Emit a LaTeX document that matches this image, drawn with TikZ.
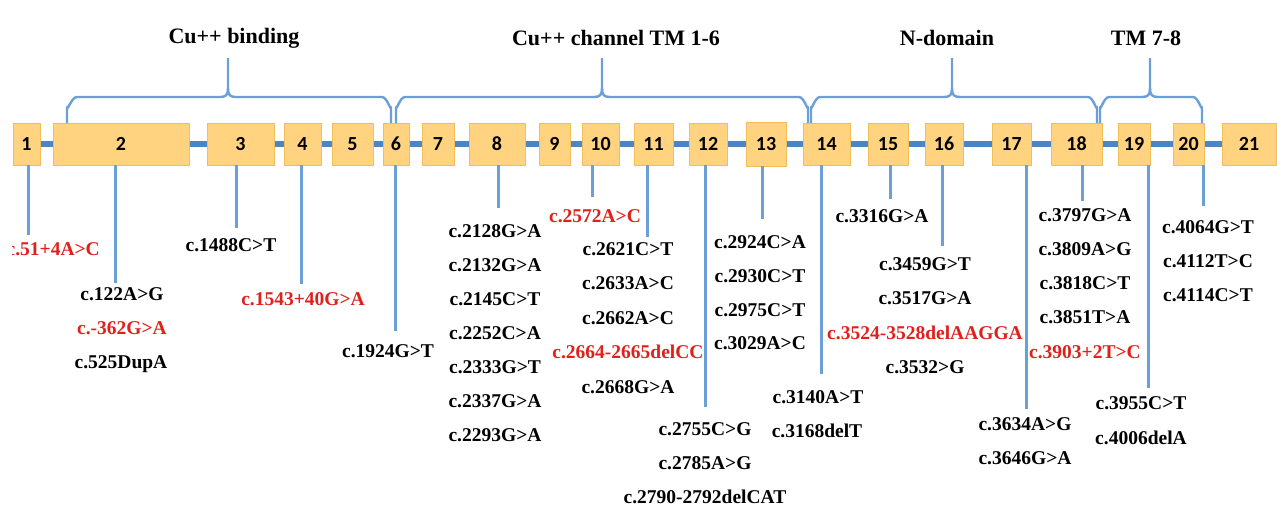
\documentclass[tikz,border=0pt]{standalone}
\usepackage{fontspec}
\setmainfont{Liberation Serif}
\newfontfamily\numfont{Carlito}
\usetikzlibrary{backgrounds}
\definecolor{boxfill}{HTML}{FFD37F}
\definecolor{boxline}{HTML}{F2BE58}
\definecolor{bbone}{HTML}{4A86C6}
\definecolor{connc}{HTML}{6A9FD8}
\definecolor{mutred}{HTML}{E0201B}
\tikzset{
  exon/.style={draw=boxline, line width=0.8pt, fill=boxfill, inner sep=0pt,
    minimum height=42pt, font=\numfont\bfseries\fontsize{20}{20}\selectfont},
  backbone/.style={draw=bbone, line width=5.5pt},
  conn/.style={draw=connc, line width=3pt},
  bracec/.style={draw=connc, line width=2.4pt, line join=round},
  mut/.style={inner sep=0pt, text height=13pt, text depth=0pt,
    font=\bfseries\fontsize{19.5}{19.5}\selectfont},
  mutr/.style={mut, text=mutred},
  domt/.style={inner sep=0pt, font=\bfseries\fontsize{22}{22}\selectfont}
}
\begin{document}
\begin{tikzpicture}[x=1pt,y=-1pt]
\useasboundingbox (0,0) rectangle (1277,509);
% exons
\foreach \n/\a/\b in {1/13/40,2/53/189,3/207/274,4/284/321,5/332/373,6/383/409,
  7/422/454,8/469/525,9/539/570,10/582/619,11/634/673,12/689/727,
  14/803/850,15/868/908,16/925/963,17/992/1031,18/1051/1102,19/1118/1150,
  20/1173/1204,21/1222/1276}{
  \pgfmathsetmacro\w{\b-\a}
  \pgfmathsetmacro\c{(\a+\b)/2}
  \node[exon, minimum width=\w pt] (e\n) at (\c,144) {\n};
}
\node[exon, minimum width=40pt, minimum height=44pt] (e13) at (766,144) {13};
\begin{scope}[on background layer]
  \draw[backbone] (e1.center) -- (e21.center);
\end{scope}
% braces
\draw[bracec] (67,123) -- (67,107) to[out=-90,in=180] (77,97) -- (220,97)
  .. controls (226,97) and (228,95) .. (228,88) -- (228,58);
\draw[bracec] (228,88) .. controls (228,95) and (230,97) .. (236,97) -- (382,97)
  to[out=0,in=-90] (391,107) -- (391,123);
\draw[bracec] (396,123) -- (396,107) to[out=-90,in=180] (405,97) -- (594,97)
  .. controls (600,97) and (602,95) .. (602,88) -- (602,58);
\draw[bracec] (602,88) .. controls (602,95) and (604,97) .. (610,97) -- (799,97)
  to[out=0,in=-90] (808,107) -- (808,123);
\draw[bracec] (811,123) -- (811,107) to[out=-90,in=180] (820,97) -- (944,97)
  .. controls (950,97) and (952,95) .. (952,88) -- (952,58);
\draw[bracec] (952,88) .. controls (952,95) and (954,97) .. (960,97) -- (1088,97)
  to[out=0,in=-90] (1097,107) -- (1097,123);
\draw[bracec] (1100,123) -- (1100,107) to[out=-90,in=180] (1109,97) -- (1142,97)
  .. controls (1148,97) and (1150,95) .. (1150,88) -- (1150,58);
\draw[bracec] (1150,88) .. controls (1150,95) and (1152,97) .. (1158,97) -- (1193,97)
  to[out=0,in=-90] (1202,107) -- (1202,123);
% domain titles
\node[domt] (d1) at (234,38) {Cu++ binding};
\node[domt] (d2) at (616,38) {Cu++ channel TM 1-6};
\node[domt] (d3) at (947,38) {N-domain};
\node[domt] (d4) at (1146,38) {TM 7-8};
% connectors
\foreach \n/\x/\y in {1/28/235,2/115/283,3/236/228,4/301/284,6/395/331,
  8/498/208,10/592/197,11/647/237,12/705/407,13/762/219,14/821/374,
  15/890/199,16/942/246,17/1026/409,18/1082/201,19/1148/388,20/1203/206}{
  \coordinate (t\n) at (\x,\y);
  \draw[conn] (t\n |- e\n.south) -- (t\n);
}
% mutations
\begin{scope}
  \clip (12,200) rectangle (200,280);
  \node[mutr, anchor=east] (m1) at (100,249) {c.51+4A>C};
\end{scope}
\node[mut] (m2a) at (122,294) {c.122A>G};
\node[mutr] (m2b) at (122,328) {c.-362G>A};
\node[mut] (m2c) at (121,362) {c.525DupA};
\node[mut] (m3) at (231,245) {c.1488C>T};
\node[mutr] (m4) at (303,299) {c.1543+40G>A};
\node[mut] (m6) at (388,351) {c.1924G>T};
\node[mut] (m8a) at (495,231) {c.2128G>A};
\node[mut] (m8b) at (495,265) {c.2132G>A};
\node[mut] (m8c) at (495,299) {c.2145C>T};
\node[mut] (m8d) at (495,333) {c.2252C>A};
\node[mut] (m8e) at (495,367) {c.2333G>T};
\node[mut] (m8f) at (495,401) {c.2337G>A};
\node[mut] (m8g) at (495,435) {c.2293G>A};
\node[mutr] (m10) at (595,216) {c.2572A>C};
\node[mut] (m11a) at (628,249) {c.2621C>T};
\node[mut] (m11b) at (628,283) {c.2633A>C};
\node[mut] (m11c) at (628,318) {c.2662A>C};
\node[mutr] (m11d) at (628,352) {c.2664-2665delCC};
\node[mut] (m11e) at (628,387) {c.2668G>A};
\node[mut] (m12a) at (705,429) {c.2755C>G};
\node[mut] (m12b) at (705,463) {c.2785A>G};
\node[mut] (m12c) at (705,497) {c.2790-2792delCAT};
\node[mut] (m13a) at (760,242) {c.2924C>A};
\node[mut] (m13b) at (760,276) {c.2930C>T};
\node[mut] (m13c) at (760,310) {c.2975C>T};
\node[mut] (m13d) at (760,343) {c.3029A>C};
\node[mut] (m14a) at (818,397) {c.3140A>T};
\node[mut] (m14b) at (817,431) {c.3168delT};
\node[mut] (m15) at (882,216) {c.3316G>A};
\node[mut] (m16a) at (925,264) {c.3459G>T};
\node[mut] (m16b) at (925,298) {c.3517G>A};
\node[mutr] (m16c) at (925,333) {c.3524-3528delAAGGA};
\node[mut] (m16d) at (925,367) {c.3532>G};
\node[mut] (m17a) at (1025,424) {c.3634A>G};
\node[mut] (m17b) at (1025,458) {c.3646G>A};
\node[mut] (m18a) at (1085,215) {c.3797G>A};
\node[mut] (m18b) at (1085,249) {c.3809A>G};
\node[mut] (m18c) at (1085,283) {c.3818C>T};
\node[mut] (m18d) at (1085,317) {c.3851T>A};
\node[mutr] (m18e) at (1085,352) {c.3903+2T>C};
\node[mut] (m19a) at (1141,403) {c.3955C>T};
\node[mut] (m19b) at (1141,438) {c.4006delA};
\node[mut] (m20a) at (1208,227) {c.4064G>T};
\node[mut] (m20b) at (1208,261) {c.4112T>C};
\node[mut] (m20c) at (1208,295) {c.4114C>T};
\end{tikzpicture}
\end{document}
